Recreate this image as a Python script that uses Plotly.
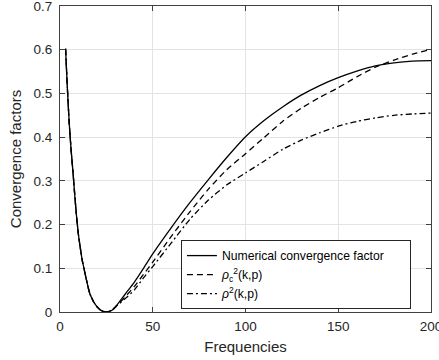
import plotly.graph_objects as go

# ---- data ----
freq_left = [3, 4, 5, 6, 7, 8, 9, 10, 11, 12, 13, 14, 16, 17, 18, 20, 22, 25, 28, 30]
val_left = [0.602, 0.51, 0.43, 0.37, 0.32, 0.265, 0.215, 0.175, 0.145, 0.118, 0.098,
            0.078, 0.043, 0.033, 0.024, 0.012, 0.004, 0.0, 0.004, 0.012]

freq_right = [35, 40, 45, 50, 60, 70, 80, 90, 100, 110, 120, 130, 140, 150, 160, 170, 180, 190, 200]
numerical_right = [0.04, 0.068, 0.1, 0.133, 0.193, 0.25, 0.303, 0.354, 0.401, 0.438, 0.469,
                   0.496, 0.518, 0.536, 0.551, 0.563, 0.570, 0.574, 0.575]
rho_c_right = [0.034, 0.058, 0.086, 0.114, 0.173, 0.229, 0.281, 0.326, 0.362, 0.399, 0.436,
               0.466, 0.491, 0.513, 0.538, 0.560, 0.576, 0.590, 0.601]
rho_right = [0.03, 0.05, 0.078, 0.104, 0.158, 0.212, 0.256, 0.291, 0.318, 0.345, 0.372,
             0.393, 0.410, 0.425, 0.436, 0.444, 0.450, 0.453, 0.455]

x_ticks = [0, 50, 100, 150, 200]
y_ticks = [0, 0.1, 0.2, 0.3, 0.4, 0.5, 0.6, 0.7]

labels = ["Numerical convergence factor" + "\u00a0" * 6 + "\u200b",
          "<i>ρ</i><sub>c</sub><sup>2</sup>(k,p)",
          "<i>ρ</i><sup>2</sup>(k,p)"]

freqs = freq_left + freq_right
series = [val_left + numerical_right, val_left + rho_c_right, val_left + rho_right]
dashes = ["solid", "6px,4px", "6px,3px,2px,3px"]

FONT = "Liberation Sans, Arial, Helvetica, sans-serif"
AX = "#262626"

fig = go.Figure()
for name, ys, d in zip(labels, series, dashes):
    fig.add_trace(go.Scatter(
        x=freqs, y=ys, mode="lines", name=name,
        line=dict(color="black", width=1.3, dash=d, shape="spline", smoothing=0.6),
    ))

axis_common = dict(
    showline=True, linecolor="#404040", linewidth=1, mirror="ticks",
    ticks="inside", ticklen=5, tickcolor="#404040", tickwidth=1,
    showgrid=True, gridcolor="#e3e3e3", gridwidth=1,
    zeroline=False, ticklabeloverflow="allow", automargin=False,
    tickfont=dict(family=FONT, size=13.5, color=AX),
)

fig.update_xaxes(range=[0, 200], tickvals=x_ticks, ticktext=[str(v) for v in x_ticks],
                 ticklabelstandoff=2,
                 title=dict(text="Frequencies", font=dict(family=FONT, size=15, color=AX), standoff=8),
                 **axis_common)
fig.update_yaxes(range=[0, 0.7], tickvals=y_ticks, ticktext=["0"] + [f"{v:.1f}" for v in y_ticks[1:]],
                 ticklabelstandoff=4,
                 title=dict(text="Convergence factors", font=dict(family=FONT, size=15, color=AX), standoff=8),
                 **axis_common)

fig.update_layout(
    width=439, height=360,
    margin=dict(l=60, r=8, t=6, b=48),
    paper_bgcolor="white", plot_bgcolor="white",
    font=dict(family=FONT, color=AX),
    legend=dict(
        x=0.326, y=0.235, xanchor="left", yanchor="top",
        bgcolor="white", bordercolor="#262626", borderwidth=1,
        font=dict(family=FONT, size=12.2, color="black"),
        tracegroupgap=0, itemwidth=30,
    ),
    showlegend=True,
)

fig.write_html("out.html")
